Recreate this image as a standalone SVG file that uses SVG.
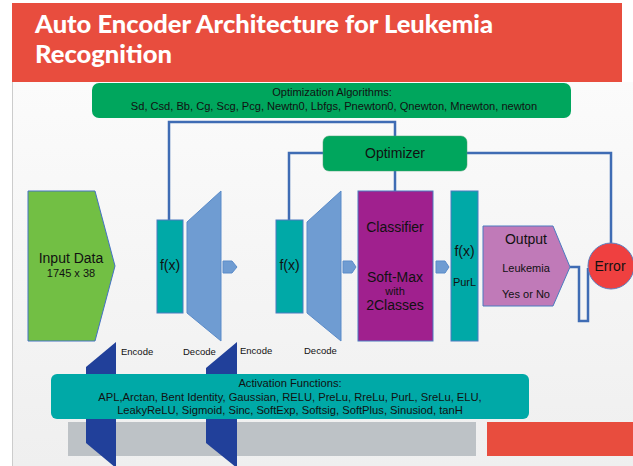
<svg xmlns="http://www.w3.org/2000/svg" width="633" height="466" viewBox="0 0 633 466">
<defs>
<linearGradient id="bg" x1="0" y1="0" x2="0" y2="1">
<stop offset="0" stop-color="#FBFBFB"/>
<stop offset="1" stop-color="#EFEFEF"/>
</linearGradient>
<style>
.t{font-family:"Liberation Sans",Arial,sans-serif;fill:#111;text-anchor:middle}
.title{font-family:Lato,"Open Sans",sans-serif;font-weight:900;font-size:24px;fill:#fff}
.teal{fill:#00A9A7;stroke:#4A7BC0;stroke-width:1}
.trap{fill:#6F9CD2;stroke:#5A8BC9;stroke-width:1}
.dark{fill:#21409A}
.conn{fill:none;stroke:#3F6CB4;stroke-width:2.5}
</style>
</defs>
<rect x="0" y="0" width="633" height="466" fill="#FFFFFF"/>
<rect x="12" y="82" width="621" height="384" fill="url(#bg)"/>
<line x1="12.5" y1="82" x2="12.5" y2="466" stroke="#CCCCCC" stroke-width="1"/>
<g id="title">
<rect x="12" y="3" width="610" height="79" fill="#E84D3E"/>
<text class="title" x="35" y="33" textLength="458" lengthAdjust="spacingAndGlyphs">Auto Encoder Architecture for Leukemia</text>
<text class="title" x="35" y="63" textLength="137" lengthAdjust="spacingAndGlyphs">Recognition</text>
</g>
<g id="connectors">
<polyline class="conn" points="169,220 169,122 395,122 395,137"/>
<polyline class="conn" points="289,220 289,153 323,153"/>
<polyline class="conn" points="467,153 611,153 611,243"/>
<line class="conn" x1="395" y1="171" x2="395" y2="191"/>
<polyline class="conn" points="570,267 579,267 579,321 588,321 588,268"/>
</g>
<g id="optimization-algorithms">
<rect x="92" y="83" width="479" height="35" rx="7" fill="#00A65D"/>
<text class="t" x="332" y="96" font-size="11.1">Optimization Algorithms:</text>
<text class="t" x="334" y="110" font-size="11.1">Sd, Csd, Bb, Cg, Scg, Pcg, Newtn0, Lbfgs, Pnewton0, Qnewton, Mnewton, newton</text>
</g>
<g id="optimizer">
<rect x="323" y="136" width="144" height="35" rx="6" fill="#00A65D" stroke="#4A9F70" stroke-width="0.5"/>
<text class="t" x="395" y="158" font-size="14">Optimizer</text>
</g>
<g id="input-data">
<polygon points="28,191 95,191 115,266 95,341 28,341" fill="#72BF44" stroke="#4472C4" stroke-width="1"/>
<text class="t" x="71" y="263" font-size="14">Input Data</text>
<text class="t" x="71" y="277" font-size="11">1745 x 38</text>
</g>
<g id="encoder1">
<rect class="teal" x="157" y="220" width="26" height="93"/>
<text class="t" x="170" y="270" font-size="14">f(x)</text>
</g>
<g id="decoder1">
<polygon class="trap" points="187,222 221,191 221,341 187,313"/>
</g>
<g id="arrow1">
<polygon class="trap" points="223,261 232,261 237,267 232,273 223,273"/>
</g>
<g id="encoder2">
<rect class="teal" x="276" y="220" width="27" height="93"/>
<text class="t" x="289.5" y="270" font-size="14">f(x)</text>
</g>
<g id="decoder2">
<polygon class="trap" points="307,222 341,191 341,341 307,313"/>
</g>
<g id="arrow2">
<polygon class="trap" points="343,261 352,261 356,267 352,273 343,273"/>
</g>
<g id="classifier">
<rect x="358" y="191" width="75" height="150" fill="#A0208E" stroke="#4A7BC0" stroke-width="1"/>
<text class="t" x="395" y="232" font-size="14">Classifier</text>
<text class="t" x="395" y="282" font-size="14">Soft-Max</text>
<text class="t" x="395" y="295" font-size="11">with</text>
<text class="t" x="395" y="310" font-size="14">2Classes</text>
</g>
<g id="arrow3">
<polygon class="trap" points="436,261 445,261 449,267 445,273 436,273"/>
</g>
<g id="purl">
<rect class="teal" x="451" y="191" width="27" height="150"/>
<text class="t" x="464.5" y="256" font-size="14">f(x)</text>
<text class="t" x="464.5" y="286" font-size="11">PurL</text>
</g>
<g id="output">
<polygon points="483,226 553,226 570,267 553,306 483,306" fill="#C07AB8" stroke="#4A7BC0" stroke-width="1"/>
<text class="t" x="526" y="244" font-size="14">Output</text>
<text class="t" x="526" y="272" font-size="11">Leukemia</text>
<text class="t" x="526" y="298" font-size="11">Yes or No</text>
</g>
<g id="error">
<circle cx="611" cy="266" r="23" fill="#EF4040" stroke="#5B7FC0" stroke-width="1"/>
<text class="t" x="610" y="271" font-size="14">Error</text>
</g>
<g id="labels">
<text class="t" x="121" y="355" font-size="9.5" style="text-anchor:start">Encode</text>
<text class="t" x="183" y="355" font-size="9.5" style="text-anchor:start">Decode</text>
<text class="t" x="240" y="354" font-size="9.5" style="text-anchor:start">Encode</text>
<text class="t" x="304" y="354" font-size="9.5" style="text-anchor:start">Decode</text>
</g>
<g id="footer">
<rect x="68" y="422" width="408" height="34" fill="#BDC2C6"/>
<rect x="487" y="422" width="146" height="34" fill="#E84D3E"/>
<polygon class="dark" points="116,342 86,367 86,443 116,468"/>
<polygon class="dark" points="237,342 206,368 206,443 237,468"/>
</g>
<g id="activation-functions">
<rect x="51" y="374" width="478" height="45" rx="6" fill="#00A9A7"/>
<text class="t" x="290" y="387" font-size="11.2">Activation Functions:</text>
<text class="t" x="290" y="401" font-size="11.2">APL,Arctan, Bent Identity, Gaussian, RELU, PreLu, RreLu, PurL, SreLu, ELU,</text>
<text class="t" x="290" y="414" font-size="11.2">LeakyReLU, Sigmoid, Sinc, SoftExp, Softsig, SoftPlus, Sinusiod, tanH</text>
</g>
</svg>
